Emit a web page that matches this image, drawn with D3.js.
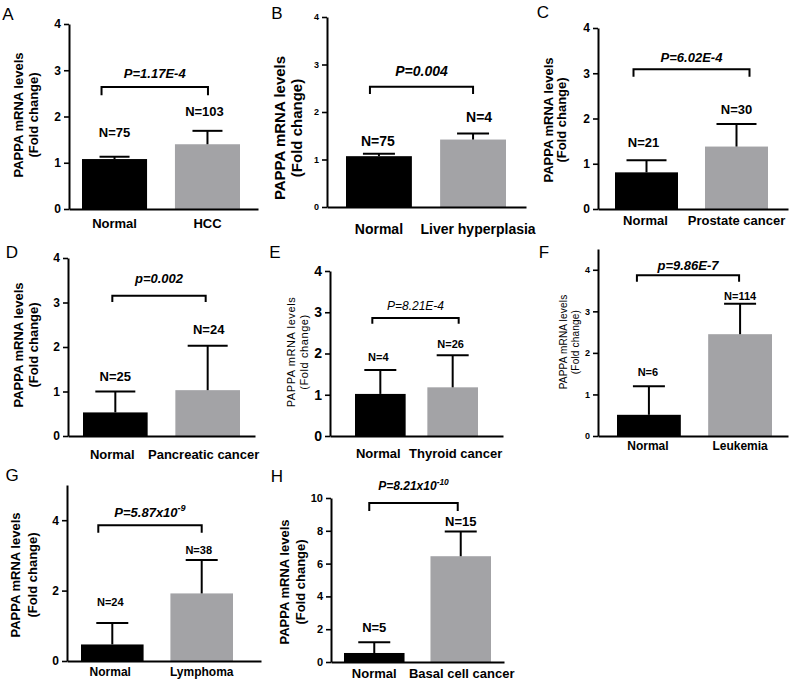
<!DOCTYPE html>
<html><head><meta charset="utf-8">
<script src="https://cdn.jsdelivr.net/npm/d3@7"></script>
<style>
body{margin:0;background:#fff}
svg{display:block}
text{font-family:"Liberation Sans",Arial,Helvetica,sans-serif;fill:#000}
</style>
</head><body>
<svg id="chart" width="795" height="682"></svg>
<script>
// ---------------- DATA ----------------
const panelLetters = ["A","B","C","D","E","F","G","H"];
const controlLabel = "Normal";
const diseaseLabels = ["HCC","Liver hyperplasia","Prostate cancer","Pancreatic cancer","Thyroid cancer","Leukemia","Lymphoma","Basal cell cancer"];
const normalMeans   = [1.08,1.07,0.81,0.53,1.02,0.51,0.47,0.55];
const normalErrors  = [0.05,0.05,0.27,0.47,0.58,0.69,0.61,0.65];
const diseaseMeans  = [1.40,1.42,1.38,1.03,1.18,2.45,1.92,6.45];
const diseaseErrors = [0.29,0.13,0.50,1.00,0.78,0.73,0.95,1.50];
const normalN  = [75,75,21,25,4,6,24,5];
const diseaseN = [103,4,30,24,26,114,38,15];
const pLabels    = ["P=1.17E-4","P=0.004","P=6.02E-4","p=0.002","P=8.21E-4","p=9.86E-7","P=5.87x10","P=8.21x10"];
const pExponents = ["","","","","","","-9","-10"];
const yMaxima = [4,4,4,4,4,4.5,5,10];
const yTickValues = [[0,1,2,3,4],[0,1,2,3,4],[0,1,2,3,4],[0,1,2,3,4],[0,1,2,3,4],[0,1,2,3,4],[0,2,4],[0,2,4,6,8,10]];
const yTitleLines = ["PAPPA mRNA levels","(Fold change)"];

// ---------------- LAYOUT (positions / sizes / styles) ----------------
// bracket/label levels are in data units (through the y scale); x offsets are relative to band centres
const layout = [
 {ax:69, y0:209,yTop:24, xEnd:258,bL:82, bR:240, letter:[8,14],  title:[18,33,115], xlY:14, xlDx:[0,0],
  br:{x1:-13,x2:0.5,lev:2.64,leg:2.46}, pLev:2.94, nLev:[1.66,2.12], nDx:[0,-3],
  f:{tick:12,tickW:"bold",title:13,titleW:"bold",ls:0,xl:13,n:13,p:13,pW:"bold"}, cap:15, sw:2},
 {ax:327,y0:207,yTop:17, xEnd:526,bL:346,bR:506, letter:[277,13], title:[280,297,128], xlY:22, xlDx:[0,5],
  br:{x1:-9,x2:0,lev:2.53,leg:2.38}, pLev:2.87, nLev:[1.39,1.89], nDx:[-1,6],
  f:{tick:9,tickW:"bold",title:15,titleW:"bold",ls:0,xl:14,n:14,p:14,pW:"bold"}, cap:16, sw:2},
 {ax:598,y0:209,yTop:28, xEnd:788,bL:615,bR:768, letter:[543,12], title:[548,561,120], xlY:11, xlDx:[-1,0],
  br:{x1:-13,x2:13,lev:3.09,leg:2.92}, pLev:3.36, nLev:[1.48,2.21], nDx:[-3,0],
  f:{tick:12,tickW:"bold",title:13,titleW:"bold",ls:0,xl:13,n:13,p:13,pW:"bold"}, cap:20, sw:2},
 {ax:68, y0:436,yTop:258,xEnd:255,bL:83, bR:240, letter:[12,252], title:[18,33,345], xlY:18, xlDx:[-3,-4],
  br:{x1:-3,x2:-2,lev:3.15,leg:3.01}, pLev:3.53, nLev:[1.33,2.40], nDx:[0,1],
  f:{tick:12,tickW:"bold",title:13,titleW:"bold",ls:0,xl:13,n:13,p:13,pW:"bold"}, cap:20, sw:2},
 {ax:330,y0:436,yTop:271,xEnd:503,bL:355,bR:478, letter:[275,252], title:[291,304,352], xlY:17, xlDx:[-2,3],
  br:{x1:-8,x2:6,lev:2.86,leg:2.72}, pLev:3.15, nLev:[1.92,2.23], nDx:[-2,-2],
  f:{tick:14,tickW:"bold",title:11,titleW:"normal",ls:0.6,xl:13,n:11,p:12,pW:"normal"}, cap:16, sw:2},
 {ax:598,y0:436,yTop:249,xEnd:788,bL:617,bR:772, letter:[544,252], title:[563,575,342], xlY:10, xlDx:[-1,0],
  br:{x1:-12,x2:-1,lev:3.87,leg:3.71}, pLev:4.11, nLev:[1.54,3.37], nDx:[-1,0],
  f:{tick:9,tickW:"bold",title:10,titleW:"normal",ls:0.2,xl:12,n:11,p:13,pW:"bold"}, cap:16, sw:2},
 {ax:67, y0:661,yTop:485,xEnd:261,bL:81, bR:233, letter:[12,475], title:[15,32,575], xlY:11, xlDx:[-2,0],
  br:{x1:-14,x2:0,lev:3.86,leg:3.64}, pLev:4.23, nLev:[1.68,3.15], nDx:[-2,-3],
  f:{tick:12,tickW:"bold",title:13,titleW:"bold",ls:0,xl:12,n:11,p:13,pW:"bold"}, cap:16, sw:2},
 {ax:331,y0:662,yTop:498,xEnd:504,bL:344,bR:491, letter:[277,476], title:[284,300,582], xlY:11, xlDx:[0,1],
  br:{x1:-5,x2:-3,lev:9.7,leg:9.2}, pLev:10.73, nLev:[2.13,8.6], nDx:[0,0],
  f:{tick:11,tickW:"bold",title:13,titleW:"bold",ls:0,xl:13,n:13,p:12,pW:"bold"}, cap:16, sw:2}
];
const barColors = ["#000000","#a3a3a6"];

// ---------------- DRAW ----------------
const svg = d3.select("#chart");

panelLetters.forEach((letter, i) => {
  const L = layout[i];
  const g = svg.append("g");
  const cats = [controlLabel, diseaseLabels[i]];
  const rows = [
    {cat:cats[0], mean:normalMeans[i],  err:normalErrors[i],  n:normalN[i],  color:barColors[0]},
    {cat:cats[1], mean:diseaseMeans[i], err:diseaseErrors[i], n:diseaseN[i], color:barColors[1]}
  ];
  const x = d3.scaleBand().domain(cats).range([L.bL, L.bR]).paddingInner(0.3).paddingOuter(0);
  const y = d3.scaleLinear().domain([0, yMaxima[i]]).range([L.y0, L.yTop]);
  const cx = c => x(c) + x.bandwidth()/2;

  // panel letter
  g.append("text").attr("x", L.letter[0]).attr("y", L.letter[1]).attr("dy","0.35em")
    .attr("text-anchor","middle").attr("font-size",17).text(letter);

  // bars
  g.selectAll("rect.bar").data(rows).join("rect").attr("class","bar")
    .attr("x", d => x(d.cat)).attr("width", x.bandwidth())
    .attr("y", d => y(d.mean)).attr("height", d => y(0) - y(d.mean))
    .attr("fill", d => d.color);

  // error bars (upper only)
  g.selectAll("line.err").data(rows).join("line").attr("class","err")
    .attr("x1", d => cx(d.cat)).attr("x2", d => cx(d.cat))
    .attr("y1", d => y(d.mean)).attr("y2", d => y(d.mean + d.err))
    .attr("stroke","#000").attr("stroke-width", L.sw);
  g.selectAll("line.cap").data(rows).join("line").attr("class","cap")
    .attr("x1", d => cx(d.cat) - L.cap).attr("x2", d => cx(d.cat) + L.cap)
    .attr("y1", d => y(d.mean + d.err)).attr("y2", d => y(d.mean + d.err))
    .attr("stroke","#000").attr("stroke-width", L.sw);

  // y axis
  const yAxis = d3.axisLeft(y).tickValues(yTickValues[i]).tickSize(5).tickSizeOuter(0).tickPadding(3)
    .tickFormat(d3.format("d"));
  const ya = g.append("g").attr("transform", `translate(${L.ax},0)`).call(yAxis);
  ya.select(".domain").attr("stroke","#000").attr("stroke-width",2);
  ya.selectAll(".tick line").attr("stroke","#000").attr("stroke-width",1.6);
  ya.selectAll(".tick text").attr("font-size", L.f.tick).attr("font-weight", L.f.tickW)
    .attr("font-family",'"Liberation Sans",Arial,sans-serif').attr("fill","#000");

  // x axis baseline
  const xa = d3.scaleLinear().domain([0,1]).range([L.ax, L.xEnd]);
  g.append("g").attr("transform", `translate(0,${L.y0})`)
    .call(d3.axisBottom(xa).tickValues([]).tickSizeOuter(0))
    .select(".domain").attr("stroke","#000").attr("stroke-width",2);

  // x category labels
  g.selectAll("text.xl").data(rows).join("text").attr("class","xl")
    .attr("x", (d,k) => cx(d.cat) + L.xlDx[k]).attr("y", L.y0 + L.xlY).attr("dy","0.35em")
    .attr("text-anchor","middle").attr("font-size", L.f.xl).attr("font-weight","bold")
    .text(d => d.cat);

  // y title
  yTitleLines.forEach((t, k) => {
    g.append("text").attr("transform", `translate(${L.title[k]},${L.title[2]}) rotate(-90)`)
      .attr("dy","0.35em").attr("text-anchor","middle")
      .attr("font-size", L.f.title).attr("font-weight", L.f.titleW)
      .attr("letter-spacing", L.f.ls).text(t);
  });

  // N labels
  g.selectAll("text.n").data(rows).join("text").attr("class","n")
    .attr("x", (d,k) => cx(d.cat) + L.nDx[k]).attr("y", (d,k) => y(L.nLev[k])).attr("dy","0.35em")
    .attr("text-anchor","middle").attr("font-size", L.f.n).attr("font-weight","bold")
    .text(d => "N=" + d.n);

  // significance bracket
  const bx1 = cx(cats[0]) + L.br.x1, bx2 = cx(cats[1]) + L.br.x2;
  const by = y(L.br.lev), bl = y(L.br.leg);
  g.append("path").attr("d", d3.line()([[bx1,bl],[bx1,by],[bx2,by],[bx2,bl]]))
    .attr("fill","none").attr("stroke","#000").attr("stroke-width",2);

  // p value label
  const pt = g.append("text").attr("x", (bx1+bx2)/2).attr("y", y(L.pLev)).attr("dy","0.35em")
    .attr("text-anchor","middle").attr("font-size", L.f.p).attr("font-weight", L.f.pW)
    .attr("font-style","italic");
  pt.append("tspan").text(pLabels[i]);
  if (pExponents[i]) {
    pt.append("tspan").attr("dy", -L.f.p*0.4).attr("font-size", L.f.p*0.7).text(pExponents[i]);
  }
});
</script>
</body></html>
